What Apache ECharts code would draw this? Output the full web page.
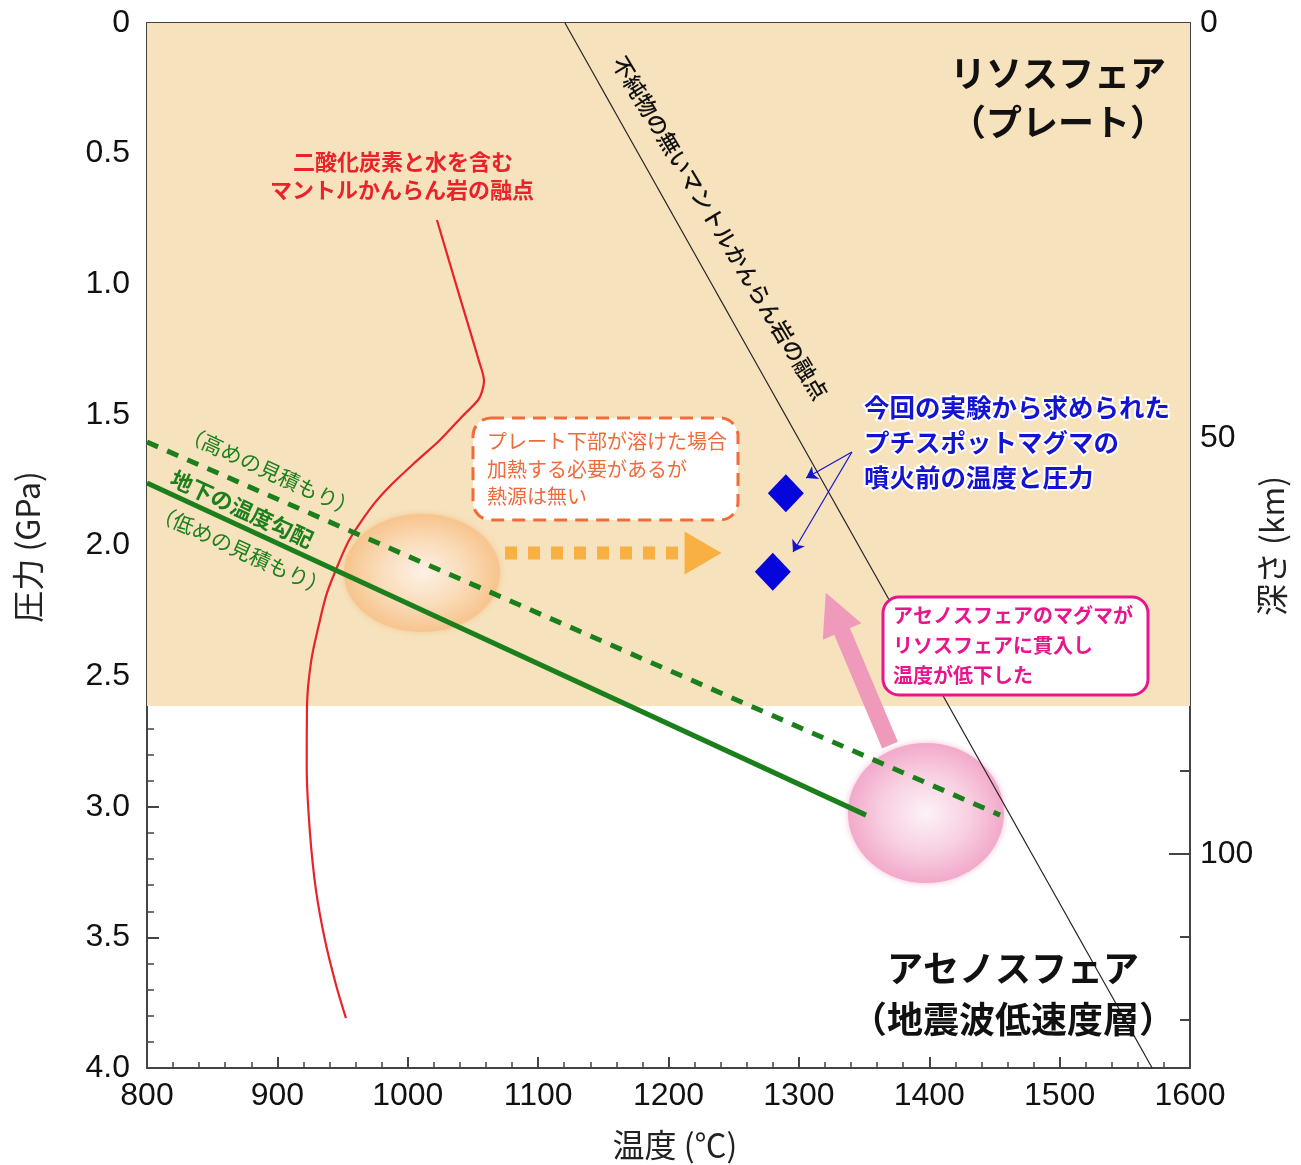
<!DOCTYPE html>
<html><head><meta charset="utf-8">
<script src="https://cdn.jsdelivr.net/npm/echarts@6/dist/echarts.min.js"></script>
<style>html,body{margin:0;padding:0;background:#fff}#c{width:1301px;height:1165px}</style>
</head><body><div id="c"></div>
<script>
// ---------- data ----------
const tempRange = [800, 1600];            // °C
const pressureRange = [0, 4.0];           // GPa
const depthMaxKm = 125.75;                // km at 4.0 GPa
const depthLabelsKm = [0, 50, 100];

const lithosphereBaseP = 2.614;           // GPa

const dryMeltT = [1120.6, 1571.0];
const dryMeltP = [0.0, 4.0];

const wetMeltT = [1022.4, 1040, 1055, 1058.5, 1057, 1054, 1041, 1024.7, 1006, 988.7, 975, 963.4, 955, 948, 938, 932.7, 926, 922.7, 922.5, 925, 929.6, 936.5, 945, 952.6];
const wetMeltP = [0.754, 1.05, 1.30, 1.37, 1.41, 1.443, 1.51, 1.596, 1.68, 1.761, 1.835, 1.914, 1.98, 2.056, 2.182, 2.285, 2.44, 2.62, 2.85, 3.10, 3.319, 3.51, 3.682, 3.809];

const geothermHighT = [800, 1454.3];
const geothermHighP = [1.604, 3.032];
const geothermLowT = [800, 1351.5];
const geothermLowP = [1.761, 3.032];

const magmaT = [1290, 1280];
const magmaP = [1.80, 2.10];

const plateMeltZone = [1010.9, 2.105];
const asthenoMagmaZone = [1397.5, 3.024];

const heatArrowT = [1074.6, 1208.8];
const heatArrowP = [2.029, 2.029];
const heatArrowHead = [1226.5, 2.029];

const riseArrowFrom = [1369.9, 2.764];
const riseArrowTo = [1326.9, 2.255];

const pointerFrom = [1340.7, 1.642];
const pointerTo = [[1305.5, 1.742], [1295.5, 2.025]];

// ---------- chart ----------
const zip = (a, b) => a.map((v, i) => [v, b[i]]);
const NUM = "'Liberation Sans', Arial, sans-serif";
const JP = "'Noto Sans CJK JP', 'Liberation Sans', sans-serif";
const AX = '#444';

const chart = echarts.init(document.getElementById('c'), null, {renderer: 'canvas'});

const xCommon = {
  type: 'value', min: tempRange[0], max: tempRange[1], interval: 100,
  axisLine: {show: true, onZero: false, lineStyle: {color: AX, width: 2}},
  axisTick: {show: true, inside: true, length: 11, lineStyle: {color: AX, width: 2}},
  minorTick: {show: true, splitNumber: 5, length: 6, lineStyle: {color: AX, width: 1.5}},
  splitLine: {show: false}, minorSplitLine: {show: false}
};

const option = {
  animation: false,
  backgroundColor: '#fff',
  grid: {left: 147, top: 23, right: 111, bottom: 97, containLabel: false},
  xAxis: [
    Object.assign({}, xCommon, {position: 'bottom',
      axisLabel: {show: true, color: '#111', fontSize: 32, fontFamily: NUM, margin: 12, formatter: v => String(v)}}),
    Object.assign({}, xCommon, {position: 'top', axisLabel: {show: false}})
  ],
  yAxis: [
    {
      type: 'value', min: pressureRange[0], max: pressureRange[1], interval: 0.5, inverse: true, position: 'left',
      axisLine: {show: true, onZero: false, lineStyle: {color: AX, width: 2}},
      axisTick: {show: true, inside: true, length: 12, lineStyle: {color: AX, width: 2}},
      minorTick: {show: true, splitNumber: 5, length: 7, lineStyle: {color: AX, width: 1.5}},
      splitLine: {show: false},
      axisLabel: {color: '#111', fontSize: 32, fontFamily: NUM, margin: 17,
        formatter: v => v === 0 ? '0' : v.toFixed(1)}
    },
    {
      type: 'value', min: 0, max: depthMaxKm, interval: 10, inverse: true, position: 'right',
      axisLine: {show: true, onZero: false, lineStyle: {color: AX, width: 2}},
      axisTick: {show: true, inside: true, length: 10, lineStyle: {color: AX, width: 2}},
      splitLine: {show: false},
      axisLabel: {color: '#111', fontSize: 32, fontFamily: NUM, margin: 10,
        formatter: v => depthLabelsKm.indexOf(v) >= 0 ? String(v) : ''}
    },
    {
      type: 'value', min: 0, max: depthMaxKm, interval: 50, inverse: true, position: 'right',
      axisLine: {show: false},
      axisTick: {show: true, inside: true, length: 21, lineStyle: {color: AX, width: 2}},
      splitLine: {show: false},
      axisLabel: {show: false}
    }
  ],
  series: [
    { // lithosphere band
      type: 'line', z: 0, data: [[tempRange[0], lithosphereBaseP]], showSymbol: false, silent: true,
      lineStyle: {width: 0},
      markArea: {silent: true, itemStyle: {color: '#F6E2BD', opacity: 1},
        data: [[{coord: [tempRange[0], pressureRange[0]]}, {coord: [tempRange[1], lithosphereBaseP]}]]}
    },
    { // orange melting zone
      type: 'scatter', z: 1, silent: true, symbol: 'circle', symbolSize: [156, 118],
      data: [plateMeltZone],
      itemStyle: {
        opacity: 1,
        color: new echarts.graphic.RadialGradient(0.5, 0.5, 0.5, [
          {offset: 0, color: '#FDF1E5'}, {offset: 0.55, color: '#FADCB9'}, {offset: 1, color: '#F7C48D'}]),
        shadowBlur: 6, shadowColor: 'rgba(247,190,130,0.8)'
      }
    },
    { // pink asthenosphere magma
      type: 'scatter', z: 1, silent: true, symbol: 'circle', symbolSize: [156, 140],
      data: [asthenoMagmaZone],
      itemStyle: {
        opacity: 1,
        color: new echarts.graphic.RadialGradient(0.5, 0.5, 0.5, [
          {offset: 0, color: '#FDF2F7'}, {offset: 0.55, color: '#F8D0E2'}, {offset: 1, color: '#F2A9CA'}]),
        shadowBlur: 6, shadowColor: 'rgba(242,169,202,0.8)'
      }
    },
    { // dry peridotite solidus
      type: 'line', z: 3, data: zip(dryMeltT, dryMeltP), showSymbol: false, silent: true,
      lineStyle: {color: '#222', width: 1.2}
    },
    { // CO2 + H2O peridotite solidus
      type: 'line', z: 4, data: zip(wetMeltT, wetMeltP), showSymbol: false, silent: true, smooth: 0.3,
      lineStyle: {color: '#E8232A', width: 2.2}
    },
    { // geotherm high estimate
      type: 'line', z: 4, data: zip(geothermHighT, geothermHighP), showSymbol: false, silent: true,
      lineStyle: {color: '#1B7F1B', width: 5, type: [12, 10]}
    },
    { // geotherm low estimate
      type: 'line', z: 4, data: zip(geothermLowT, geothermLowP), showSymbol: false, silent: true,
      lineStyle: {color: '#1B7F1B', width: 5}
    },
    { // heating arrow shaft
      type: 'line', z: 4, data: zip(heatArrowT, heatArrowP), showSymbol: false, silent: true,
      lineStyle: {color: '#F8B043', width: 13, type: [12, 11], cap: 'butt'}
    },
    { // heating arrow head
      type: 'scatter', z: 4, silent: true, symbol: 'triangle', symbolSize: [43, 37], symbolRotate: -90,
      data: [heatArrowHead], itemStyle: {color: '#F8B043', opacity: 1}
    },
    { // rising magma arrow
      type: 'lines', coordinateSystem: 'cartesian2d', z: 5, silent: true,
      symbol: ['none', 'triangle'], symbolSize: [40, 42],
      lineStyle: {color: '#F09ABB', width: 17, opacity: 1, curveness: 0},
      data: [{coords: [riseArrowFrom, riseArrowTo]}]
    },
    { // pointer arrows
      type: 'lines', coordinateSystem: 'cartesian2d', z: 6, silent: true,
      symbol: ['none', 'arrow'], symbolSize: [7, 11],
      lineStyle: {color: '#1414D0', width: 1.2, opacity: 1, curveness: 0},
      data: pointerTo.map(p => ({coords: [pointerFrom, p]}))
    },
    { // magma P-T estimates
      type: 'scatter', z: 6, silent: true, symbol: 'diamond', symbolSize: [36, 38],
      data: zip(magmaT, magmaP), itemStyle: {color: '#0505DC', opacity: 1}
    }
  ],
  graphic: [
    // axis titles
    {type: 'text', z: 100, x: 675, y: 1145, style: {text: '温度 (℃)', font: '32px ' + JP, fill: '#222', align: 'center', verticalAlign: 'middle'}},
    {type: 'text', z: 100, x: 28, y: 547, rotation: Math.PI / 2, style: {text: '圧力 (GPa)', font: '32px ' + JP, fill: '#222', align: 'center', verticalAlign: 'middle'}},
    {type: 'text', z: 100, x: 1272, y: 546, rotation: Math.PI / 2, style: {text: '深さ (km)', font: '32px ' + JP, fill: '#222', align: 'center', verticalAlign: 'middle'}},
    // region names
    {type: 'text', z: 100, x: 1058, y: 73, style: {text: 'リソスフェア', font: 'bold 36px ' + JP, fill: '#111', align: 'center', verticalAlign: 'middle'}},
    {type: 'text', z: 100, x: 1058, y: 122, style: {text: '（プレート）', font: 'bold 36px ' + JP, fill: '#111', align: 'center', verticalAlign: 'middle'}},
    {type: 'text', z: 100, x: 1013, y: 968, style: {text: 'アセノスフェア', font: 'bold 36px ' + JP, fill: '#111', align: 'center', verticalAlign: 'middle'}},
    {type: 'text', z: 100, x: 1013, y: 1019, style: {text: '（地震波低速度層）', font: 'bold 36px ' + JP, fill: '#111', align: 'center', verticalAlign: 'middle'}},
    // red label
    {type: 'text', z: 100, x: 403, y: 162, style: {text: '二酸化炭素と水を含む', font: 'bold 22px ' + JP, fill: '#E8232A', align: 'center', verticalAlign: 'middle'}},
    {type: 'text', z: 100, x: 402, y: 190, style: {text: 'マントルかんらん岩の融点', font: 'bold 22px ' + JP, fill: '#E8232A', align: 'center', verticalAlign: 'middle'}},
    // black rotated label
    {type: 'text', z: 100, x: 720, y: 228, rotation: -1.03, style: {text: '不純物の無いマントルかんらん岩の融点', font: '500 22px ' + JP, fill: '#111', align: 'center', verticalAlign: 'middle'}},
    // green labels
    {type: 'text', z: 100, x: 270, y: 471, rotation: -0.43, style: {text: '（高めの見積もり）', font: '21px ' + JP, fill: '#1B7F1B', align: 'center', verticalAlign: 'middle'}},
    {type: 'text', z: 100, x: 242, y: 509, rotation: -0.43, style: {text: '地下の温度勾配', font: 'bold 22px ' + JP, fill: '#1B7F1B', align: 'center', verticalAlign: 'middle'}},
    {type: 'text', z: 100, x: 241, y: 550, rotation: -0.43, style: {text: '（低めの見積もり）', font: '21px ' + JP, fill: '#1B7F1B', align: 'center', verticalAlign: 'middle'}},
    // orange dashed box
    {type: 'rect', z: 99, shape: {x: 473, y: 418, width: 265, height: 102, r: 18},
      style: {fill: '#fff', stroke: '#F26B3A', lineWidth: 3, lineDash: [13, 8]}},
    {type: 'text', z: 100, x: 487, y: 428, style: {text: 'プレート下部が溶けた場合\n加熱する必要があるが\n熱源は無い', font: '20px ' + JP, lineHeight: 27.5, fill: '#EF6A3C', align: 'left', verticalAlign: 'top'}},
    // magenta box
    {type: 'rect', z: 99, shape: {x: 883, y: 597, width: 265, height: 98, r: 16},
      style: {fill: '#fff', stroke: '#E8158C', lineWidth: 3}},
    {type: 'text', z: 100, x: 893, y: 600, style: {text: 'アセノスフェアのマグマが\nリソスフェアに貫入し\n温度が低下した', font: 'bold 20px ' + JP, lineHeight: 30, fill: '#E8158C', align: 'left', verticalAlign: 'top'}},
    // blue label
    {type: 'text', z: 100, x: 864, y: 390, style: {text: '今回の実験から求められた\nプチスポットマグマの\n噴火前の温度と圧力', font: 'bold 25.5px ' + JP, lineHeight: 35, fill: '#1414D0', stroke: '#fff', lineWidth: 4, align: 'left', verticalAlign: 'top'}}
  ]
};
chart.setOption(option);
</script>
</body></html>
